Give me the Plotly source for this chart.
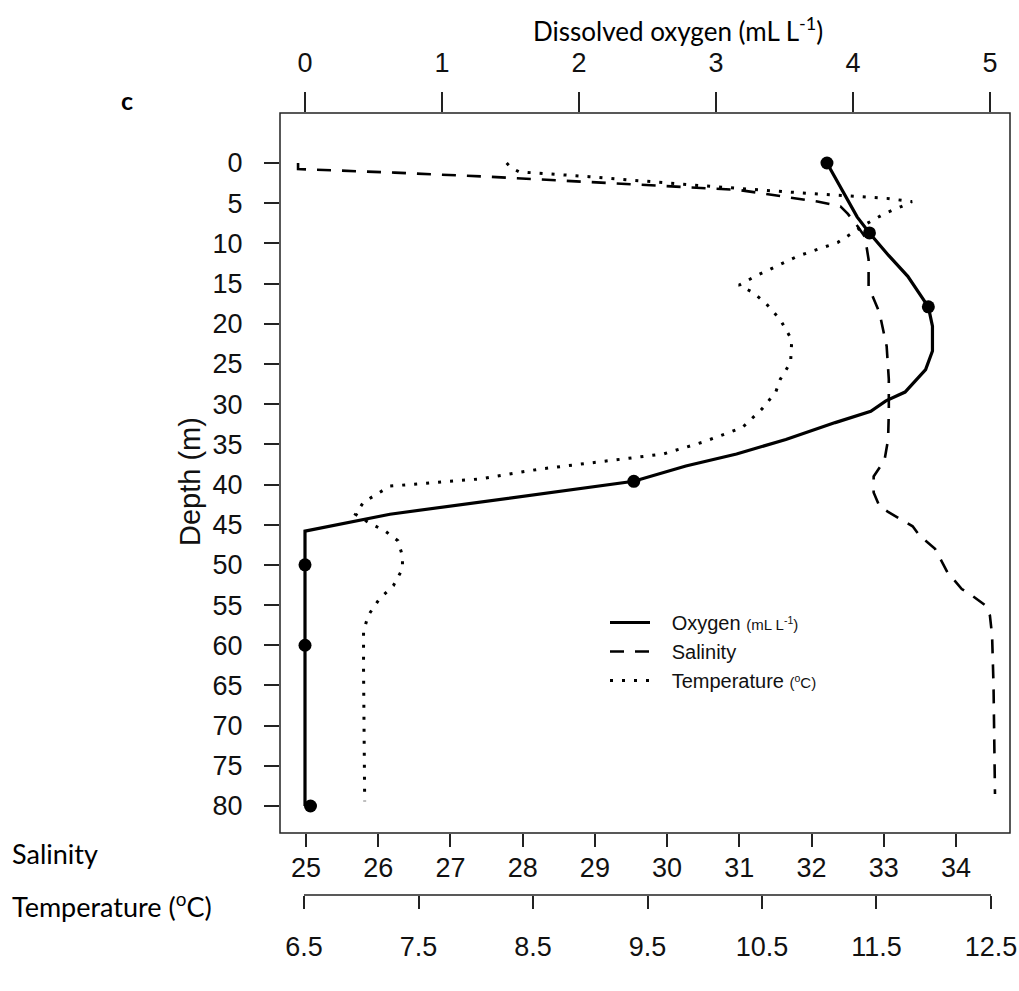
import plotly.graph_objects as go

# ---------------- data ----------------
# Oxygen profile (continuous line), mL L-1
oxy_depth = [0, 3.7, 6.7, 8.7, 11.5, 14.1, 17.9, 20.3, 23.4, 25.7, 28.5, 29.6, 30.9,
             32.3, 34.4, 36.2, 37.7, 39.6, 41.8, 43.7, 45.8, 50, 60, 70, 80]
oxy_value = [3.81, 3.93, 4.03, 4.12, 4.26, 4.40, 4.55, 4.58, 4.58, 4.53, 4.38, 4.24, 4.13,
             3.87, 3.51, 3.15, 2.78, 2.40, 1.45, 0.62, 0.0, 0.0, 0.0, 0.0, 0.0]

# Oxygen bottle samples (dots)
bottle_depth = [0, 8.7, 17.9, 39.6, 50, 60, 80]
bottle_value = [3.81, 4.12, 4.55, 2.40, 0.0, 0.0, 0.04]

# Salinity profile
sal_depth = [0, 0.75, 1.2, 1.7, 2.5, 3.35, 4.8, 5.05, 5.4, 6.3, 7.9, 9.2, 12, 15.4, 18.6,
             22.8, 26.9, 31, 34.4, 37, 39, 41, 42.7, 43.4, 45.2, 46.4, 48, 50.9, 53,
             53.8, 55, 56.3, 58.8, 65, 78.5]
sal_value = [24.89, 24.89, 26.23, 27.51, 29.2, 30.99, 32.08, 32.22, 32.40, 32.50, 32.64,
             32.74, 32.79, 32.79, 32.94, 33.04, 33.07, 33.07, 33.06, 33.01, 32.86, 32.86,
             32.94, 33.06, 33.40, 33.50, 33.71, 33.88, 34.08, 34.22, 34.40, 34.47, 34.50,
             34.52, 34.54]

# Temperature profile (deg C)
temp_depth = [0, 0.6, 1.1, 1.7, 2.7, 3.6, 4.4, 4.8, 5.4, 6.3, 7.5, 9.9, 11.6, 14.1, 15.2,
              16.1, 17.4, 19.5, 22, 24.8, 26.9, 28.5, 30.6, 32.9, 34.7, 36.2, 37.2, 38.1,
              39.3, 40.2, 42.2, 43.7, 44.7, 45.8, 47, 48.9, 50.5, 52.6, 54.2, 56.3, 58.3,
              62.9, 79.4]
temp_value = [8.27, 8.31, 8.38, 8.99, 9.86, 10.72, 11.59, 11.81, 11.72, 11.57, 11.42,
              11.16, 10.81, 10.44, 10.30, 10.42, 10.53, 10.66, 10.76, 10.75, 10.66, 10.62,
              10.50, 10.33, 9.99, 9.64, 9.07, 8.55, 8.04, 7.25, 7.02, 6.95, 7.06, 7.21,
              7.32, 7.36, 7.36, 7.28, 7.16, 7.06, 7.02, 7.02, 7.03]

depth_ticks = list(range(0, 81, 5))
oxy_ticks = [0, 1, 2, 3, 4, 5]
sal_ticks = [25, 26, 27, 28, 29, 30, 31, 32, 33, 34]
temp_ticks = [6.5, 7.5, 8.5, 9.5, 10.5, 11.5, 12.5]

# ---------------- style ----------------
W, H = 1019, 991
ML, MR, MT, MB = 280, 9, 113, 96
PW, PH = W - ML - MR, H - MT - MB
SANS = "Liberation Sans, Arial, sans-serif"
CAL = "Lato, Carlito, Calibri, sans-serif"
TICKFONT = dict(family=SANS, size=27, color="#111")
NB = "\u00a0"


def px_x(px):
    return (px - ML) / PW


def px_y(py):
    return (H - MB - py) / PH


fig = go.Figure()

fig.add_trace(go.Scatter(
    x=oxy_value, y=oxy_depth, xaxis="x", yaxis="y", mode="lines",
    line=dict(color="black", width=3.2),
    name=NB * 3 + "Oxygen <span style='font-size:15px'>(mL L<sup>-1</sup>)</span>"))
fig.add_trace(go.Scatter(
    x=sal_value, y=sal_depth, xaxis="x2", yaxis="y", mode="lines",
    line=dict(color="black", width=2.6, dash="14px,11px"),
    name=NB * 3 + "Salinity"))
fig.add_trace(go.Scatter(
    x=temp_value, y=temp_depth, xaxis="x3", yaxis="y", mode="lines",
    line=dict(color="black", width=3, dash="3px,9px"),
    name=NB * 3 + "Temperature <span style='font-size:15px'>(<sup>o</sup>C)</span>"))
fig.add_trace(go.Scatter(
    x=bottle_value, y=bottle_depth, xaxis="x", yaxis="y", mode="markers",
    marker=dict(color="black", size=13), showlegend=False))

axis_common = dict(showgrid=False, zeroline=False, showline=False, ticks="outside",
                   tickcolor="#222", tickwidth=1.5, tickfont=TICKFONT)

fig.update_layout(
    width=W, height=H,
    margin=dict(l=ML, r=MR, t=MT, b=MB, autoexpand=False),
    paper_bgcolor="white", plot_bgcolor="white",
    showlegend=True,
    xaxis=dict(anchor="y", side="top", range=[-0.1825, 5.146], tickmode="array",
               tickvals=oxy_ticks, ticklen=20, ticklabelstandoff=9, **axis_common),
    xaxis2=dict(anchor="y", side="bottom", overlaying="x", range=[24.64, 34.748],
                tickmode="array", tickvals=sal_ticks, ticklen=13, ticklabelstandoff=-2,
                **axis_common),
    xaxis3=dict(anchor="free", position=0, side="bottom", overlaying="x",
                range=[6.2904, 12.666], tickmode="array", tickvals=temp_ticks,
                ticktext=[f"{v:.1f}" for v in temp_ticks],
                ticklen=13, ticklabelstandoff=15, **axis_common),
    yaxis=dict(domain=[(H - MB - 833) / PH, 1], range=[83.36, -6.221], tickmode="array",
               tickvals=depth_ticks, ticklen=15, ticklabelstandoff=16, **axis_common),
    legend=dict(x=px_x(605), y=px_y(603), xanchor="left", yanchor="top",
                bgcolor="rgba(0,0,0,0)", font=dict(family=SANS, size=20, color="#111"),
                itemwidth=40, tracegroupgap=0),
)

# plot frame and temperature axis line
fig.add_shape(type="rect", xref="paper", yref="y domain", x0=0, x1=1, y0=0, y1=1,
              line=dict(color="#222", width=1.5), fillcolor="rgba(0,0,0,0)")
fig.add_shape(type="line", xref="x3", yref="paper", x0=temp_ticks[0], x1=temp_ticks[-1],
              y0=0, y1=0, line=dict(color="#222", width=1.5))

fig.add_annotation(text="Dissolved oxygen (mL L<sup>-1</sup>)", xref="paper", yref="paper",
                   x=px_x(678), y=px_y(30), xanchor="center", yanchor="middle",
                   showarrow=False, font=dict(family=CAL, size=26, color="black"))
fig.add_annotation(text="<b>c</b>", xref="paper", yref="paper",
                   x=px_x(127), y=px_y(100), xanchor="center", yanchor="middle",
                   showarrow=False, font=dict(family=CAL, size=25, color="black"))
fig.add_annotation(text="Depth (m)", xref="paper", yref="paper", textangle=-90,
                   x=px_x(190), y=px_y(482), xanchor="center", yanchor="middle",
                   showarrow=False, font=dict(family=SANS, size=29, color="#111"))
fig.add_annotation(text="Salinity", xref="paper", yref="paper", xanchor="left",
                   yanchor="middle", x=px_x(10), y=px_y(853), showarrow=False,
                   font=dict(family=CAL, size=27, color="black"))
fig.add_annotation(text="Temperature (<sup>o</sup>C)", xref="paper", yref="paper",
                   xanchor="left", yanchor="middle", x=px_x(10), y=px_y(905),
                   showarrow=False, font=dict(family=CAL, size=27, color="black"))

fig.write_html("out.html")
